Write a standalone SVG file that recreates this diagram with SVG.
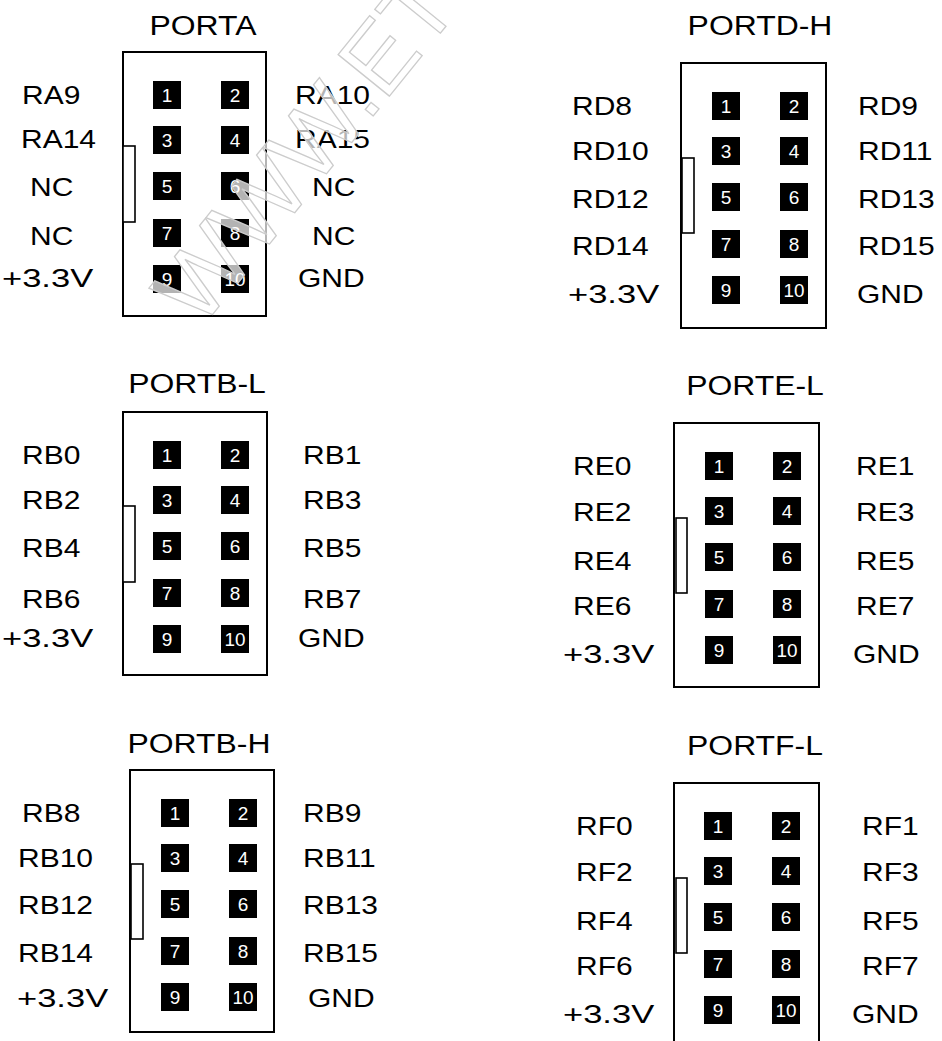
<svg xmlns="http://www.w3.org/2000/svg" width="942" height="1041" viewBox="0 0 942 1041">
<style>
text{font-family:"Liberation Sans",Arial,sans-serif;fill:#000}
.t{font-size:28px;text-anchor:middle}
.l{font-size:25px}
.box{fill:#fff;stroke:#000;stroke-width:2}
.key{fill:#fff;stroke:#000;stroke-width:1.6}
.pin{fill:#000}
.n{font-size:19px;fill:#fff;text-anchor:middle}
.wm{font-size:96px;fill:#fff;fill-opacity:0.7;stroke:#cccccc;stroke-width:1.3}
</style>
<rect width="942" height="1041" fill="#fff"/>
<defs>
<g id="pins">
<rect class="pin" x="0" y="0" width="28" height="28"/><text class="n" x="14" y="21">1</text>
<rect class="pin" x="68" y="0" width="28" height="28"/><text class="n" x="82" y="21">2</text>
<rect class="pin" x="0" y="45" width="28" height="28"/><text class="n" x="14" y="66">3</text>
<rect class="pin" x="68" y="45" width="28" height="28"/><text class="n" x="82" y="66">4</text>
<rect class="pin" x="0" y="91" width="28" height="28"/><text class="n" x="14" y="112">5</text>
<rect class="pin" x="68" y="91" width="28" height="28"/><text class="n" x="82" y="112">6</text>
<rect class="pin" x="0" y="138" width="28" height="28"/><text class="n" x="14" y="159">7</text>
<rect class="pin" x="68" y="138" width="28" height="28"/><text class="n" x="82" y="159">8</text>
<rect class="pin" x="0" y="184" width="28" height="28"/><text class="n" x="14" y="205">9</text>
<rect class="pin" x="68" y="184" width="28" height="28"/><text class="n" x="82" y="205" textLength="21" lengthAdjust="spacingAndGlyphs">10</text>
</g>
</defs>

<g id="porta">
<text class="t" transform="translate(203,35) scale(1.14,1)">PORTA</text>
<rect class="box" x="123" y="52" width="143" height="264"/>
<rect class="key" x="123" y="146" width="12" height="76"/>
<use href="#pins" x="153" y="81"/>
<text class="l" transform="translate(22,104) scale(1.2,1)">RA9</text>
<text class="l" transform="translate(21,148) scale(1.2,1)">RA14</text>
<text class="l" transform="translate(30,196) scale(1.2,1)">NC</text>
<text class="l" transform="translate(30,245) scale(1.2,1)">NC</text>
<text class="l" transform="translate(2,287) scale(1.2,1)" textLength="76" lengthAdjust="spacingAndGlyphs">+3.3V</text>
<text class="l" transform="translate(295,104) scale(1.2,1)">RA10</text>
<text class="l" transform="translate(295,148) scale(1.2,1)">RA15</text>
<text class="l" transform="translate(312,196) scale(1.2,1)">NC</text>
<text class="l" transform="translate(312,245) scale(1.2,1)">NC</text>
<text class="l" transform="translate(298,287) scale(1.2,1)">GND</text>
</g>

<g id="portd-h">
<text class="t" transform="translate(760,35) scale(1.14,1)">PORTD-H</text>
<rect class="box" x="681" y="63" width="145" height="265"/>
<rect class="key" x="682" y="158" width="12" height="75"/>
<use href="#pins" x="712" y="92"/>
<text class="l" transform="translate(572,115) scale(1.2,1)">RD8</text>
<text class="l" transform="translate(572,160) scale(1.2,1)">RD10</text>
<text class="l" transform="translate(572,208) scale(1.2,1)">RD12</text>
<text class="l" transform="translate(572,255) scale(1.2,1)">RD14</text>
<text class="l" transform="translate(568,303) scale(1.2,1)" textLength="76" lengthAdjust="spacingAndGlyphs">+3.3V</text>
<text class="l" transform="translate(858,115) scale(1.2,1)">RD9</text>
<text class="l" transform="translate(858,160) scale(1.2,1)">RD11</text>
<text class="l" transform="translate(858,208) scale(1.2,1)">RD13</text>
<text class="l" transform="translate(858,255) scale(1.2,1)">RD15</text>
<text class="l" transform="translate(857,303) scale(1.2,1)">GND</text>
</g>

<g id="portb-l">
<text class="t" transform="translate(197,393) scale(1.14,1)">PORTB-L</text>
<rect class="box" x="123" y="412" width="144" height="263"/>
<rect class="key" x="123" y="506" width="12" height="76"/>
<use href="#pins" x="153" y="441"/>
<text class="l" transform="translate(22,464) scale(1.2,1)">RB0</text>
<text class="l" transform="translate(22,509) scale(1.2,1)">RB2</text>
<text class="l" transform="translate(22,557) scale(1.2,1)">RB4</text>
<text class="l" transform="translate(22,608) scale(1.2,1)">RB6</text>
<text class="l" transform="translate(2,647) scale(1.2,1)" textLength="76" lengthAdjust="spacingAndGlyphs">+3.3V</text>
<text class="l" transform="translate(303,464) scale(1.2,1)">RB1</text>
<text class="l" transform="translate(303,509) scale(1.2,1)">RB3</text>
<text class="l" transform="translate(303,557) scale(1.2,1)">RB5</text>
<text class="l" transform="translate(303,608) scale(1.2,1)">RB7</text>
<text class="l" transform="translate(298,647) scale(1.2,1)">GND</text>
</g>

<g id="porte-l">
<text class="t" transform="translate(755,395) scale(1.14,1)">PORTE-L</text>
<rect class="box" x="674" y="423" width="145" height="264"/>
<rect class="key" x="676" y="518" width="11" height="75"/>
<use href="#pins" x="705" y="452"/>
<text class="l" transform="translate(573,475) scale(1.2,1)">RE0</text>
<text class="l" transform="translate(573,521) scale(1.2,1)">RE2</text>
<text class="l" transform="translate(573,570) scale(1.2,1)">RE4</text>
<text class="l" transform="translate(573,615) scale(1.2,1)">RE6</text>
<text class="l" transform="translate(563,663) scale(1.2,1)" textLength="76" lengthAdjust="spacingAndGlyphs">+3.3V</text>
<text class="l" transform="translate(856,475) scale(1.2,1)">RE1</text>
<text class="l" transform="translate(856,521) scale(1.2,1)">RE3</text>
<text class="l" transform="translate(856,570) scale(1.2,1)">RE5</text>
<text class="l" transform="translate(856,615) scale(1.2,1)">RE7</text>
<text class="l" transform="translate(853,663) scale(1.2,1)">GND</text>
</g>

<g id="portb-h">
<text class="t" transform="translate(199,753) scale(1.14,1)">PORTB-H</text>
<rect class="box" x="130" y="770" width="144" height="262"/>
<rect class="key" x="131" y="864" width="12" height="75"/>
<use href="#pins" x="161" y="799"/>
<text class="l" transform="translate(22,822) scale(1.2,1)">RB8</text>
<text class="l" transform="translate(18,867) scale(1.2,1)">RB10</text>
<text class="l" transform="translate(18,914) scale(1.2,1)">RB12</text>
<text class="l" transform="translate(18,962) scale(1.2,1)">RB14</text>
<text class="l" transform="translate(17,1007) scale(1.2,1)" textLength="76" lengthAdjust="spacingAndGlyphs">+3.3V</text>
<text class="l" transform="translate(303,822) scale(1.2,1)">RB9</text>
<text class="l" transform="translate(303,867) scale(1.2,1)">RB11</text>
<text class="l" transform="translate(303,914) scale(1.2,1)">RB13</text>
<text class="l" transform="translate(303,962) scale(1.2,1)">RB15</text>
<text class="l" transform="translate(308,1007) scale(1.2,1)">GND</text>
</g>

<g id="portf-l">
<text class="t" transform="translate(755,755) scale(1.14,1)">PORTF-L</text>
<path class="box" d="M674,1048 V783 H819 V1048"/>
<rect class="key" x="676" y="878" width="11" height="75"/>
<use href="#pins" x="704" y="812"/>
<text class="l" transform="translate(576,835) scale(1.2,1)">RF0</text>
<text class="l" transform="translate(576,881) scale(1.2,1)">RF2</text>
<text class="l" transform="translate(576,930) scale(1.2,1)">RF4</text>
<text class="l" transform="translate(576,975) scale(1.2,1)">RF6</text>
<text class="l" transform="translate(563,1023) scale(1.2,1)" textLength="76" lengthAdjust="spacingAndGlyphs">+3.3V</text>
<text class="l" transform="translate(862,835) scale(1.2,1)">RF1</text>
<text class="l" transform="translate(862,881) scale(1.2,1)">RF3</text>
<text class="l" transform="translate(862,930) scale(1.2,1)">RF5</text>
<text class="l" transform="translate(862,975) scale(1.2,1)">RF7</text>
<text class="l" transform="translate(852,1023) scale(1.2,1)">GND</text>
</g>

<g id="connectors"></g>

<g id="watermark">
<text class="wm" transform="translate(200,330) rotate(-51)">WWW.ETT.C</text>
</g>
</svg>
